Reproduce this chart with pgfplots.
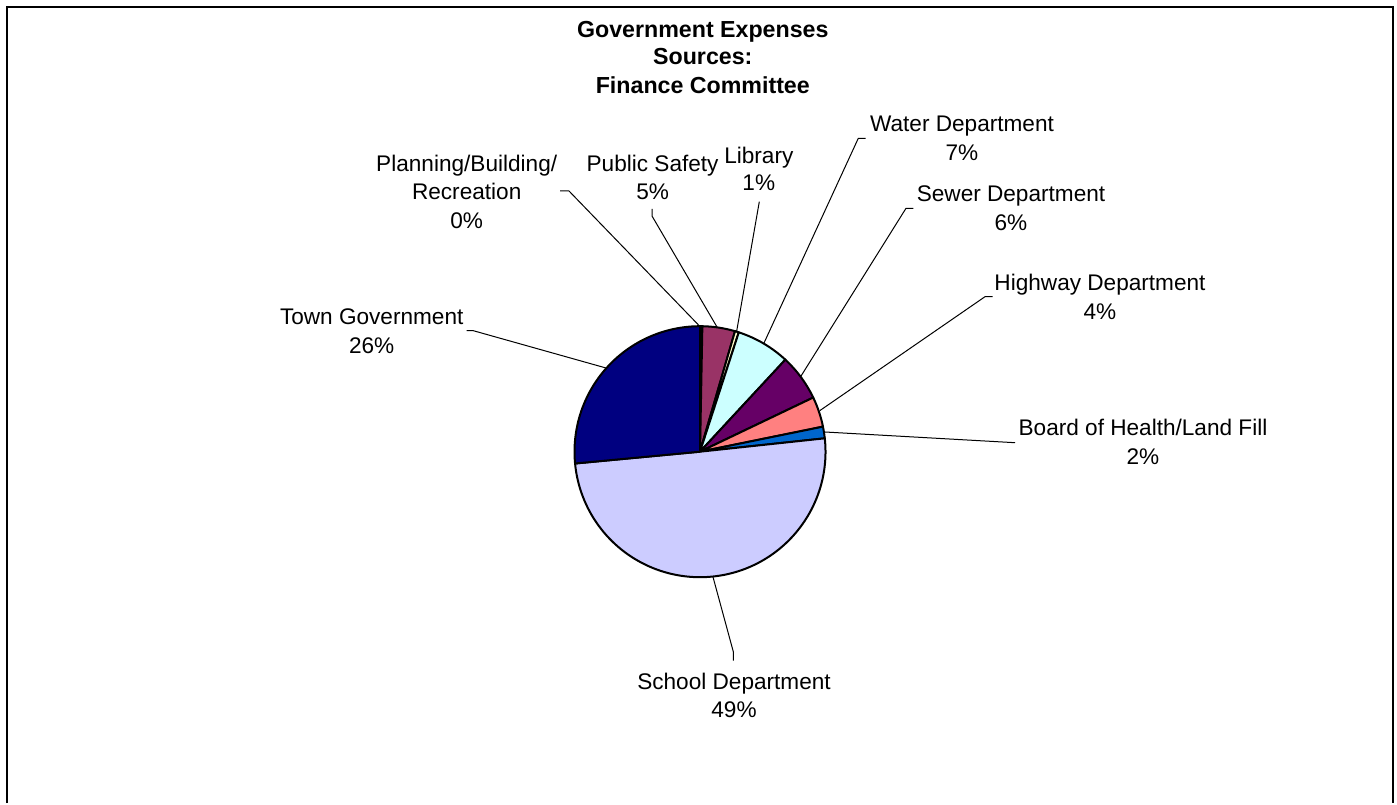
\documentclass[border=0pt]{standalone}
\usepackage{fontspec}
\setmainfont{Liberation Sans}
\usepackage{pgfplots}
\usepackage{pgfplotstable}
\pgfplotsset{compat=1.18}

% Excel 2003 default fills
\definecolor{cplan}{HTML}{9999FF}
\definecolor{csafety}{HTML}{993366}
\definecolor{clib}{HTML}{FFFFCC}
\definecolor{cwater}{HTML}{CCFFFF}
\definecolor{csewer}{HTML}{660066}
\definecolor{chighway}{HTML}{FF8080}
\definecolor{chealth}{HTML}{0066CC}
\definecolor{cschool}{HTML}{CCCCFF}
\definecolor{ctown}{HTML}{000080}

% share of each slice in percent, clockwise from 12 o'clock
\pgfplotstableread{
share colour
0.3  cplan
4.2  csafety
0.5  clib
6.9  cwater
6.0  csewer
3.9  chighway
1.5  chealth
50.2 cschool
26.5 ctown
}\piedata

\newcommand\lab[4][]{\node[anchor=base,inner sep=0pt,#1] at (axis cs:#2,#3) {#4};}

\begin{document}
\fontsize{11.3bp}{14.25bp}\selectfont
\begin{tikzpicture}
\begin{axis}[
    x=0.5bp, y=0.5bp,
    xmin=0, xmax=1397, ymin=0, ymax=803,
    hide axis, clip=false,
]
\path (axis cs:0,0) rectangle (axis cs:1397,803);
% chart frame
\draw[line width=1.1bp] (axis cs:7,0) -- (axis cs:7,796) -- (axis cs:1393,796) -- (axis cs:1393,0);

% wedges
\gdef\cum{0}
\pgfplotsforeachungrouped \i in {0,...,8}{%
  \pgfplotstablegetelem{\i}{share}\of\piedata \let\share\pgfplotsretval
  \pgfplotstablegetelem{\i}{colour}\of\piedata \let\col\pgfplotsretval
  \pgfmathsetmacro\aa{90-3.6*\cum}%
  \pgfmathsetmacro\cum{\cum+\share}%
  \pgfmathsetmacro\bb{90-3.6*\cum}%
  \edef\temp{\noexpand\filldraw[fill=\col,draw=black,line width=1bp,line join=round]
    (axis cs:700,351.3) -- ++(\aa:62.75bp) arc[start angle=\aa,end angle=\bb,radius=62.75bp] -- cycle;}%
  \temp
}

% leader lines
\draw[line width=0.5bp] (axis cs:560,612) -- (axis cs:569,612) -- (axis cs:699,477.5);
\draw[line width=0.5bp] (axis cs:652,594) -- (axis cs:652,587) -- (axis cs:717,476);
\draw[line width=0.5bp] (axis cs:759.3,601.3) -- (axis cs:736.7,472);
\draw[line width=0.5bp] (axis cs:865.7,664.7) -- (axis cs:858.3,664.7) -- (axis cs:764,460);
\draw[line width=0.5bp] (axis cs:913.3,594.7) -- (axis cs:906,594.7) -- (axis cs:800.6,426.3);
\draw[line width=0.5bp] (axis cs:992.7,506.3) -- (axis cs:985,506.3) -- (axis cs:820,392.5);
\draw[line width=0.5bp] (axis cs:1015,360.3) -- (axis cs:825,371);
\draw[line width=0.5bp] (axis cs:466.7,472.3) -- (axis cs:473.3,472.3) -- (axis cs:606,435);
\draw[line width=0.5bp] (axis cs:733.3,142.3) -- (axis cs:733.3,151.3) -- (axis cs:713,226);

% title
\lab[font=\fontsize{11.6bp}{14bp}\selectfont\bfseries]{702.8}{765.7}{Government Expenses}
\lab[font=\fontsize{11.6bp}{14bp}\selectfont\bfseries]{702.8}{738}{Sources:}
\lab[font=\fontsize{11.6bp}{14bp}\selectfont\bfseries]{702.8}{709.7}{Finance Committee}

% labels
\lab{466.7}{631.3}{Planning/Building/}
\lab{466.7}{603}{Recreation}
\lab{466.7}{574.7}{0\%}
\lab{652.6}{631.3}{Public Safety}
\lab{652.6}{603}{5\%}
\lab{758.8}{639.7}{Library}
\lab{758.8}{612.3}{1\%}
\lab{962}{671.3}{Water Department}
\lab{962}{642}{7\%}
\lab{1011}{601.3}{Sewer Department}
\lab{1011}{572}{6\%}
\lab{1100}{512.3}{Highway Department}
\lab{1100}{483.7}{4\%}
\lab{1143}{367.3}{Board of Health/Land Fill}
\lab{1143}{338.7}{2\%}
\lab{371.7}{478.7}{Town Government}
\lab{371.7}{449.7}{26\%}
\lab{734}{113.7}{School Department}
\lab{734}{85.7}{49\%}
\end{axis}
\end{tikzpicture}
\end{document}
